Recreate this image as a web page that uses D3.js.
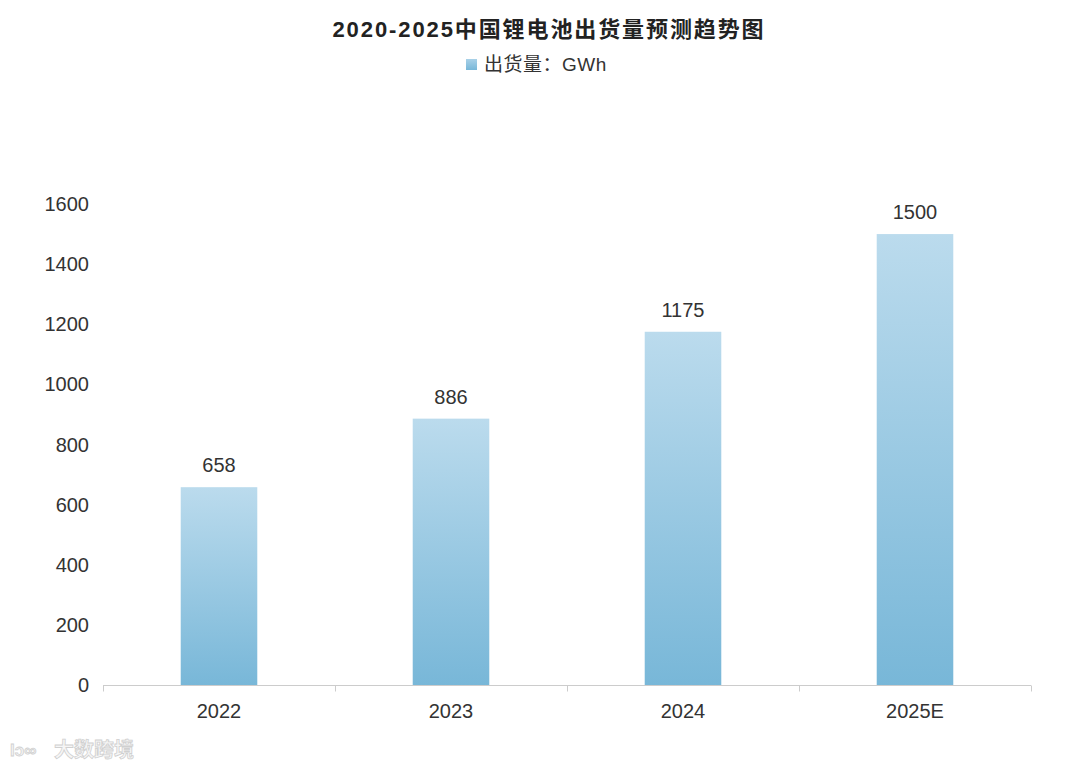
<!DOCTYPE html>
<html><head><meta charset="utf-8">
<script src="https://cdn.jsdelivr.net/npm/d3@7"></script>
<style>body{margin:0;background:#fff;}svg{display:block;font-family:"Liberation Sans","Noto Sans CJK SC",sans-serif;}</style>
</head><body>
<svg id="c" width="1080" height="768"></svg>
<script>
const categories = ["2022","2023","2024","2025E"];
const values = [658,886,1175,1500];
const yTicks = [0,200,400,600,800,1000,1200,1400,1600];
const title = "2020-2025中国锂电池出货量预测趋势图";
const seriesName = "出货量：GWh";

(function(){
const svg = d3.select("#c");
const mLeft = 103, mRight = 1031, mTop = 204, mBottom = 685;
const x = d3.scaleBand().domain(categories).range([mLeft,mRight]).paddingInner(0.67).paddingOuter(0.335);
const y = d3.scaleLinear().domain([0,1600]).range([mBottom,mTop]);

const defs = svg.append("defs");
const g = defs.append("linearGradient").attr("id","bg").attr("x1",0).attr("y1",0).attr("x2",0).attr("y2",1);
g.append("stop").attr("offset","0%").attr("stop-color","#bbdbed");
g.append("stop").attr("offset","100%").attr("stop-color","#78b7d8");
const gl = defs.append("linearGradient").attr("id","lg").attr("x1",0).attr("y1",0).attr("x2",0).attr("y2",1);
gl.append("stop").attr("offset","0%").attr("stop-color","#a9d1e8");
gl.append("stop").attr("offset","100%").attr("stop-color","#78b7d8");

svg.append("text").attr("x",549).attr("y",37).attr("text-anchor","middle")
  .attr("font-size",22).attr("font-weight","bold").attr("letter-spacing",1.9).attr("fill","#222").text(title);
svg.append("rect").attr("x",466).attr("y",59).attr("width",11).attr("height",11).attr("fill","url(#lg)");
svg.append("text").attr("x",484).attr("y",71).attr("font-size",19).attr("letter-spacing",0.5).attr("fill","#333").text(seriesName);

svg.append("g").selectAll("text").data(yTicks).join("text")
  .attr("x",89).attr("y",d=>y(d)+7).attr("text-anchor","end")
  .attr("font-size",20).attr("fill","#333").text(d=>d);

svg.append("g").selectAll("rect").data(values).join("rect")
  .attr("x",(d,i)=>x(categories[i])).attr("width",x.bandwidth())
  .attr("y",d=>y(d)).attr("height",d=>mBottom-y(d)).attr("fill","url(#bg)");

svg.append("g").selectAll("text").data(values).join("text")
  .attr("x",(d,i)=>x(categories[i])+x.bandwidth()/2).attr("y",d=>y(d)-15)
  .attr("text-anchor","middle").attr("font-size",20).attr("fill","#333").text(d=>d);

const xa = svg.append("g").attr("transform",`translate(0,${mBottom+0.5})`);
xa.append("line").attr("x1",mLeft).attr("x2",mRight).attr("stroke","#ccc");
const ticks = d3.range(categories.length+1).map(i=>Math.round(mLeft+i*(mRight-mLeft)/categories.length)+0.5);
xa.selectAll("line.t").data(ticks).join("line").attr("class","t")
  .attr("x1",d=>d).attr("x2",d=>d).attr("y1",0).attr("y2",6).attr("stroke","#ccc");
xa.selectAll("text").data(categories).join("text")
  .attr("x",d=>x(d)+x.bandwidth()/2).attr("y",32).attr("text-anchor","middle")
  .attr("font-size",20).attr("fill","#333").text(d=>d);

// watermark
const wm = svg.append("g");
wm.append("text").attr("x",10).attr("y",756).attr("font-size",17).attr("font-weight","bold")
  .attr("fill","#f4f4f4").attr("stroke","#d0d0d0").attr("stroke-width",0.8).text("lↄ∞");
wm.append("text").attr("x",54).attr("y",757).attr("font-size",20).attr("font-weight","bold")
  .attr("fill","#f6f6f6").attr("stroke","#d0d0d0").attr("stroke-width",0.8).text("大数跨境");
})();
</script>
</body></html>
